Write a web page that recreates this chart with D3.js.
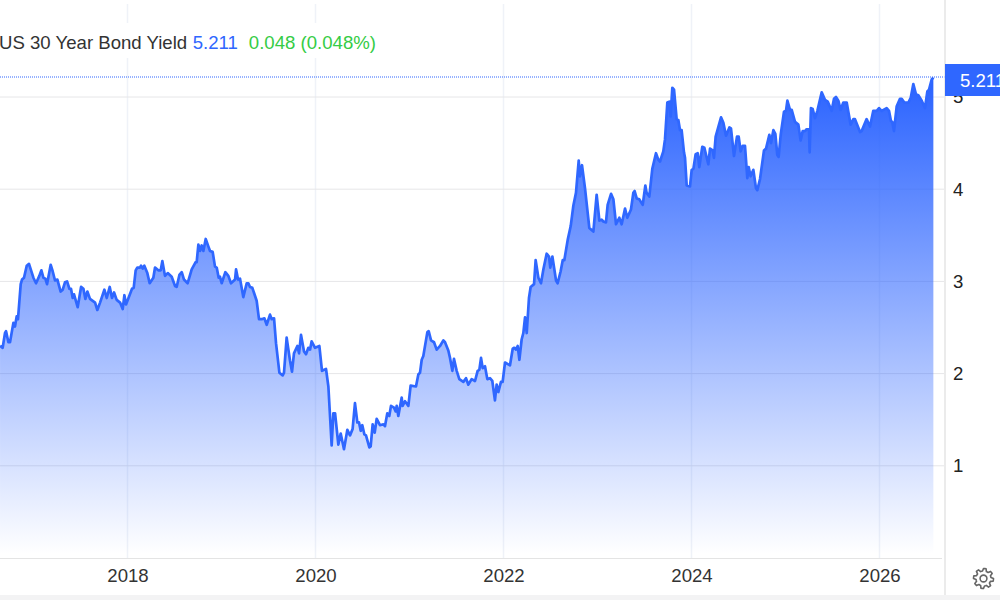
<!DOCTYPE html>
<html>
<head>
<meta charset="utf-8">
<script src="https://cdn.jsdelivr.net/npm/d3@7"></script>
<style>
  body { margin: 0; background: #fff; overflow: hidden; }
  text { font-family: "Liberation Sans", Arial, sans-serif; }
</style>
</head>
<body>
<div id="chart"></div>
<script>
// values (decimal year, yield in %)
var years = [
  2016.644,2016.672,2016.697,2016.708,2016.733,2016.750,2016.786,2016.803,2016.821,2016.835,2016.864,2016.878,2016.899,2016.928,2016.952,2016.999,
  2017.027,2017.062,2017.084,2017.105,2017.126,2017.144,2017.183,2017.204,2017.229,2017.254,2017.289,2017.311,2017.335,2017.357,2017.382,2017.399,2017.417,2017.431,2017.470,2017.506,2017.531,2017.552,2017.573,2017.601,2017.655,2017.679,2017.708,2017.754,2017.779,2017.811,2017.835,2017.857,2017.885,2017.921,2017.949,2017.967,2017.984,
  2018.048,2018.066,2018.087,2018.105,2018.133,2018.144,2018.162,2018.179,2018.211,2018.236,2018.275,2018.293,2018.328,2018.353,2018.371,2018.399,2018.428,2018.470,2018.506,2018.523,2018.552,2018.577,2018.601,2018.640,2018.683,2018.725,2018.736,2018.754,2018.772,2018.789,2018.807,2018.832,2018.860,2018.878,2018.906,2018.931,2018.949,2018.970,2018.984,
  2019.002,2019.041,2019.073,2019.101,2019.144,2019.155,2019.176,2019.197,2019.232,2019.268,2019.286,2019.303,2019.328,2019.374,2019.399,2019.428,2019.456,2019.481,2019.516,2019.534,2019.559,2019.580,2019.616,2019.651,2019.665,2019.693,2019.729,2019.750,2019.771,2019.807,2019.825,2019.846,2019.878,2019.899,2019.924,2019.942,2019.959,2019.995,
  2020.041,2020.069,2020.112,2020.137,2020.172,2020.190,2020.208,2020.243,2020.268,2020.303,2020.339,2020.367,2020.395,2020.420,2020.445,2020.463,2020.481,2020.498,2020.520,2020.537,2020.573,2020.587,2020.608,2020.630,2020.651,2020.686,2020.722,2020.739,2020.764,2020.785,2020.803,2020.835,2020.853,2020.864,2020.881,2020.917,2020.927,2020.952,2020.988,
  2021.012,2021.069,2021.094,2021.112,2021.130,2021.147,2021.190,2021.204,2021.229,2021.261,2021.289,2021.325,2021.360,2021.378,2021.413,2021.431,2021.456,2021.473,2021.502,2021.530,2021.573,2021.601,2021.626,2021.661,2021.697,2021.725,2021.743,2021.761,2021.778,2021.803,2021.828,2021.856,2021.881,2021.909,2021.927,2021.945,2021.973,2021.991,
  2022.016,2022.051,2022.069,2022.098,2022.115,2022.133,2022.151,2022.169,2022.193,2022.211,2022.229,2022.247,2022.271,2022.289,2022.325,2022.342,2022.371,2022.399,2022.424,2022.459,2022.484,2022.498,2022.520,2022.559,2022.576,2022.608,2022.630,2022.647,2022.683,2022.715,2022.743,2022.771,2022.800,2022.814,2022.835,2022.867,2022.913,2022.956,2022.991,
  2023.020,2023.044,2023.062,2023.090,2023.108,2023.144,2023.169,2023.197,2023.232,2023.257,2023.293,2023.317,2023.356,2023.381,2023.395,2023.417,2023.445,2023.481,2023.509,2023.523,2023.551,2023.583,2023.622,2023.647,2023.665,2023.700,2023.718,2023.743,2023.764,2023.778,2023.796,2023.814,2023.842,2023.860,2023.878,2023.895,2023.920,2023.931,2023.949,2023.984,
  2024.002,2024.020,2024.044,2024.066,2024.083,2024.115,2024.137,2024.179,2024.197,2024.225,2024.239,2024.257,2024.314,2024.339,2024.367,2024.403,2024.420,2024.452,2024.484,2024.502,2024.523,2024.544,2024.569,2024.594,2024.608,2024.629,2024.658,2024.686,2024.700,2024.729,2024.771,2024.793,2024.828,2024.846,2024.871,2024.892,2024.913,2024.927,2024.949,2024.984,
  2025.005,2025.020,2025.048,2025.066,2025.101,2025.137,2025.161,2025.183,2025.207,2025.225,2025.250,2025.257,2025.271,2025.289,2025.314,2025.339,2025.385,2025.420,2025.449,2025.491,2025.516,2025.537,2025.562,2025.587,2025.615,2025.651,2025.693,2025.722,2025.739,2025.793,2025.810,2025.863,2025.899,2025.934,2025.970,2025.995,
  2026.023,2026.076,2026.101,2026.122,2026.136,2026.154,2026.183,2026.218,2026.236,2026.264,2026.307,2026.332,2026.360,2026.388,2026.413,2026.449,2026.484,2026.509,2026.527,2026.555,2026.573
];
var yields = [
  2.30,2.28,2.44,2.46,2.34,2.34,2.55,2.51,2.62,2.59,2.97,3.02,3.04,3.17,3.19,3.04,
  2.98,3.06,3.12,3.04,3.03,2.97,3.18,3.11,3.01,3.02,2.89,2.91,2.99,3.00,2.92,2.92,2.82,2.86,2.72,2.94,2.92,2.81,2.89,2.81,2.77,2.69,2.77,2.91,2.82,2.94,2.82,2.88,2.80,2.77,2.70,2.85,2.75,
  2.92,2.93,3.12,3.15,3.15,3.17,3.14,3.17,3.09,2.98,3.04,3.15,3.12,3.12,3.22,3.06,3.09,3.05,2.95,2.94,3.07,3.10,3.02,2.98,3.13,3.21,3.21,3.40,3.33,3.39,3.33,3.46,3.38,3.33,3.32,3.16,3.15,3.04,3.05,
  2.98,3.10,3.06,2.98,3.02,3.13,3.02,3.03,2.83,2.98,2.98,2.94,2.93,2.79,2.59,2.59,2.60,2.53,2.64,2.59,2.60,2.33,2.01,1.98,2.01,2.39,2.14,2.02,2.22,2.30,2.22,2.42,2.24,2.21,2.28,2.26,2.35,2.28,
  2.30,2.03,2.05,1.86,1.22,1.57,1.57,1.23,1.35,1.18,1.39,1.33,1.40,1.68,1.47,1.47,1.38,1.44,1.34,1.33,1.20,1.21,1.45,1.36,1.51,1.44,1.45,1.43,1.57,1.54,1.65,1.63,1.59,1.65,1.54,1.74,1.65,1.70,1.65,
  1.87,1.86,1.99,2.01,2.15,2.19,2.45,2.46,2.36,2.34,2.26,2.30,2.36,2.34,2.25,2.17,2.03,2.16,2.03,1.94,1.91,1.95,1.88,1.94,1.92,2.03,2.04,2.17,2.06,2.08,1.94,1.95,1.92,1.71,1.88,1.80,1.91,1.91,
  2.12,2.10,2.09,2.27,2.28,2.26,2.30,2.15,2.37,2.44,2.61,2.44,2.82,2.94,2.97,3.23,3.04,2.98,3.13,3.30,3.27,3.15,3.27,3.01,2.98,3.11,3.23,3.23,3.45,3.60,3.82,3.96,4.31,4.14,4.26,4.01,3.58,3.54,3.94,
  3.66,3.67,3.65,3.64,3.83,3.95,3.89,3.62,3.69,3.62,3.79,3.69,3.78,3.96,3.98,3.90,3.89,3.83,4.04,3.96,3.92,4.22,4.39,4.32,4.30,4.41,4.54,4.94,4.95,4.79,5.10,5.08,4.76,4.75,4.64,4.64,4.40,4.34,4.04,4.03,
  4.21,4.22,4.38,4.39,4.24,4.46,4.45,4.27,4.44,4.42,4.34,4.57,4.78,4.72,4.58,4.67,4.66,4.36,4.57,4.57,4.41,4.47,4.47,4.12,4.24,4.14,4.21,4.01,3.99,4.11,4.42,4.44,4.59,4.50,4.64,4.60,4.37,4.35,4.59,4.84,
  4.85,4.96,4.86,4.86,4.73,4.70,4.53,4.63,4.63,4.65,4.65,4.40,4.88,4.87,4.77,4.85,5.05,4.97,4.95,4.85,4.98,5.00,4.96,4.86,4.94,4.94,4.70,4.76,4.76,4.62,4.63,4.76,4.68,4.85,4.85,4.88,
  4.85,4.88,4.85,4.74,4.73,4.63,4.90,4.98,4.98,4.94,4.94,4.99,5.14,5.03,5.02,4.96,4.88,5.06,5.08,5.19,5.211
];
var xTickLabels = [2018, 2020, 2022, 2024, 2026];
var yTickLabels = [1, 2, 3, 4, 5];
var seriesName = "US 30 Year Bond Yield";
var lastValue = "5.211";
var changeText = "0.048 (0.048%)";

var svgWidth = 1000, svgHeight = 600;
var fontSize = 18.6;
var data = years.map(function(y, i) { return { year: y, value: yields[i] }; });

var svg = d3.select("#chart").append("svg")
  .attr("width", svgWidth)
  .attr("height", svgHeight);

// year 2018 sits at x=127.5, 94px per year; yield 0 at y=558
var x = d3.scaleLinear().domain([2018, 2026]).range([127.5, 879.5]);
var y = d3.scaleLinear().domain([0, 5]).range([558, 97]);

var grad = svg.append("defs").append("linearGradient")
  .attr("id", "fade")
  .attr("gradientUnits", "userSpaceOnUse")
  .attr("x1", 0).attr("x2", 0)
  .attr("y1", y(5.211)).attr("y2", 554);
grad.append("stop").attr("offset", "0%").attr("stop-color", "#2962ff").attr("stop-opacity", 1);
grad.append("stop").attr("offset", "100%").attr("stop-color", "#2962ff").attr("stop-opacity", 0);

// grid
svg.append("g").selectAll("line.v")
  .data(xTickLabels)
  .enter().append("line")
  .attr("x1", d => x(d)).attr("x2", d => x(d))
  .attr("y1", 4).attr("y2", 558)
  .attr("stroke", "#eff2f8").attr("stroke-width", 1.5);
svg.append("g").selectAll("line.h")
  .data(yTickLabels)
  .enter().append("line")
  .attr("x1", 0).attr("x2", 944)
  .attr("y1", d => y(d)).attr("y2", d => y(d))
  .attr("stroke", "#e6e6e8").attr("stroke-width", 1);

// area and line
var area = d3.area()
  .x(d => x(d.year))
  .y0(554)
  .y1(d => y(d.value));
var line = d3.line()
  .x(d => x(d.year))
  .y(d => y(d.value));

svg.append("path")
  .datum(data)
  .attr("d", area)
  .attr("fill", "url(#fade)");
svg.append("path")
  .datum(data)
  .attr("d", line)
  .attr("fill", "none")
  .attr("stroke", "#2f67ff")
  .attr("stroke-width", 2.7)
  .attr("stroke-linejoin", "round");

// legend sits on a white patch that breaks the vertical grid
svg.append("rect")
  .attr("x", 0).attr("y", 23)
  .attr("width", 385).attr("height", 35)
  .attr("fill", "#fff");
var legend = svg.append("text")
  .attr("x", -1).attr("y", 49)
  .attr("font-size", fontSize)
  .attr("fill", "#333");
legend.append("tspan").text(seriesName);
legend.append("tspan").attr("dx", 5.5).attr("fill", "#2f67ff").text(lastValue);
legend.append("tspan").attr("dx", 11).attr("fill", "#35cc45").text(changeText);

// last value dotted line
svg.append("line")
  .attr("x1", 0).attr("x2", 945)
  .attr("y1", 77).attr("y2", 77)
  .attr("stroke", "#2f67ff")
  .attr("stroke-width", 1)
  .attr("stroke-dasharray", "1,1");

// bottom axis
var xAxis = d3.axisBottom(x)
  .tickValues(xTickLabels)
  .tickFormat(d3.format("d"))
  .tickSize(0)
  .tickPadding(10);
var gx = svg.append("g")
  .attr("transform", "translate(0,558.5)")
  .call(xAxis);
gx.select(".domain").remove();
gx.selectAll("text").attr("font-size", fontSize).attr("font-family", null).attr("fill", "#333");
svg.append("line")
  .attr("x1", 0).attr("x2", 942)
  .attr("y1", 558.5).attr("y2", 558.5)
  .attr("stroke", "#e4e4e4");

// right axis
var yAxis = d3.axisRight(y)
  .tickValues(yTickLabels)
  .tickFormat(d3.format("d"))
  .tickSize(0)
  .tickPadding(8);
var gy = svg.append("g")
  .attr("transform", "translate(945,0)")
  .call(yAxis);
gy.select(".domain").remove();
gy.selectAll("text").attr("font-size", fontSize).attr("font-family", null).attr("fill", "#222");
svg.append("line")
  .attr("x1", 945).attr("x2", 945)
  .attr("y1", 0).attr("y2", 595)
  .attr("stroke", "#e4e4e4").attr("stroke-width", 1.5);

// last value label
svg.append("rect")
  .attr("x", 945).attr("y", 64)
  .attr("width", 55).attr("height", 32)
  .attr("fill", "#2f67ff");
svg.append("text")
  .attr("x", 960).attr("y", 87)
  .attr("font-size", fontSize)
  .attr("fill", "#fff")
  .text(lastValue);

// footer strip
svg.append("rect")
  .attr("x", 0).attr("y", 595)
  .attr("width", svgWidth).attr("height", 5)
  .attr("fill", "#f3f3f4");

// settings gear
var gearPts = d3.range(48).map(function(i) {
  var k = i % 6;
  return [i / 48 * 2 * Math.PI, (k < 3) ? 10 : 7.5];
});
var gear = svg.append("g").attr("transform", "translate(983.5,578.5)");
gear.append("path")
  .attr("d", d3.lineRadial().curve(d3.curveLinearClosed)(gearPts))
  .attr("fill", "none").attr("stroke", "#666").attr("stroke-width", 1.6).attr("stroke-linejoin", "round");
gear.append("circle")
  .attr("r", 3.4)
  .attr("fill", "none").attr("stroke", "#666").attr("stroke-width", 1.6);
</script>
</body>
</html>
